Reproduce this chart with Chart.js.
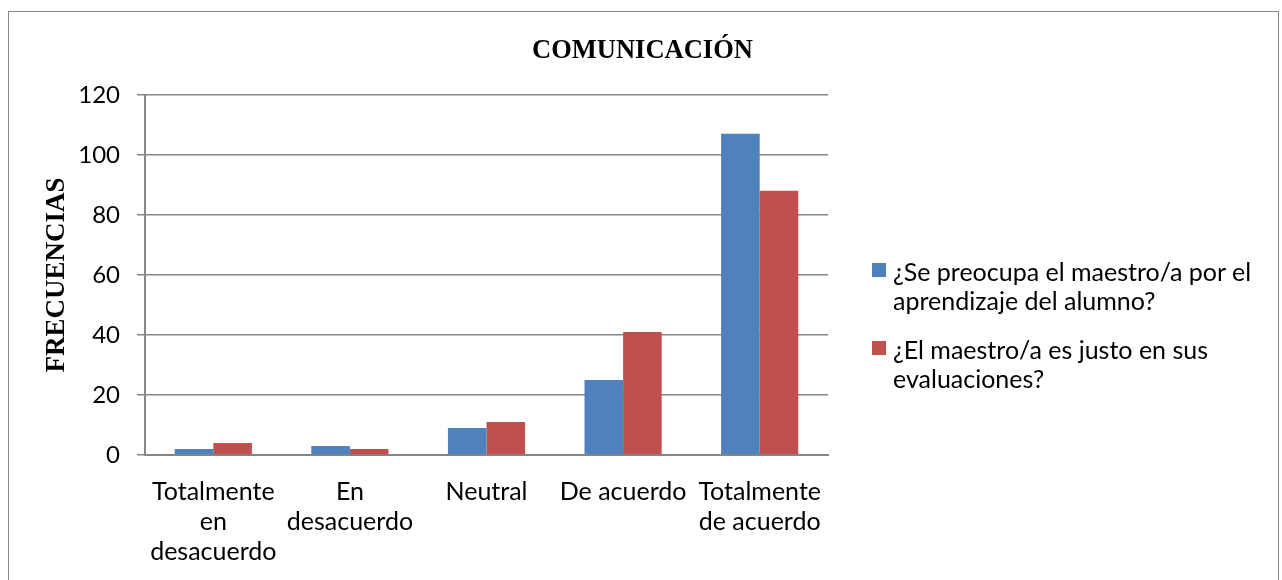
<!DOCTYPE html>
<html>
<head>
<meta charset="utf-8">
<script src="https://cdn.jsdelivr.net/npm/chart.js@4/dist/chart.umd.min.js"></script>
<style>
  body { margin: 0; background: #fff; overflow: hidden; }
  #frame { position: absolute; left: 8px; top: 11px; width: 1269px; height: 600px; border: 1px solid #868686; }
  #wrap { position: absolute; left: 0; top: 0; width: 1282px; height: 580px; }
  #legend { position: absolute; left: 871px; top: 257px; font-family: Lato, "Open Sans", sans-serif; font-size: 25px; color: #000; }
  .item { position: relative; padding-left: 22px; line-height: 29px; margin-bottom: 20px; white-space: nowrap; }
  .box { position: absolute; left: 1px; top: 6px; width: 14px; height: 14px; }
</style>
</head>
<body>
<div id="frame"></div>
<div id="wrap"><canvas id="comunicacion-chart"></canvas></div>
<div id="legend"></div>
<script>
// categories on the x axis (arrays = wrapped lines)
const categories = [
  ["Totalmente", "en", "desacuerdo"],
  ["En", "desacuerdo"],
  "Neutral",
  "De acuerdo",
  ["Totalmente", "de acuerdo"]
];
const seriesNames = [
  ["¿Se preocupa el maestro/a por el", "aprendizaje del alumno?"],
  ["¿El maestro/a es justo en sus", "evaluaciones?"]
];
const preocupaValues = [2, 3, 9, 25, 107];
const justoValues = [4, 2, 11, 41, 88];
const yTicks = [0, 20, 40, 60, 80, 100, 120];
const colors = ["#4f81bd", "#c0504d"];

const sansFamily = "Lato, 'Open Sans', sans-serif";
const serifFamily = "'Liberation Serif', 'Times New Roman', serif";

function createChart() {
  const canvas = document.querySelector("#comunicacion-chart");
  let options = {
    type: "bar",
    data: {
      labels: categories,
      datasets: [
        { label: seriesNames[0].join(" "), data: preocupaValues, backgroundColor: colors[0] },
        { label: seriesNames[1].join(" "), data: justoValues, backgroundColor: colors[1] }
      ]
    },
    options: {
      responsive: true,
      maintainAspectRatio: false,
      animation: false,
      layout: { padding: { left: 3, right: 0, top: 0, bottom: 0 } },
      datasets: { bar: { categoryPercentage: 0.565, barPercentage: 1.0 } },
      scales: {
        x: {
          grid: { display: false },
          border: { color: "#868686", width: 2 },
          ticks: { color: "#000", font: { family: sansFamily, size: 25, lineHeight: 1.2 }, maxRotation: 0, autoSkip: false, padding: 14 },
          afterFit: (scale) => { scale.height = 125; }
        },
        y: {
          min: 0,
          max: 120,
          afterBuildTicks: (scale) => { scale.ticks = yTicks.map(v => ({ value: v })); },
          grid: { color: "#868686", lineWidth: 1.5, tickLength: 8 },
          border: { color: "#868686", width: 2 },
          ticks: { color: "#000", font: { family: sansFamily, size: 24 }, padding: 17 },
          title: {
            display: true,
            text: "FRECUENCIAS",
            color: "#000",
            font: { family: serifFamily, size: 27, weight: "bold", lineHeight: 1.2 },
            padding: { top: 38, bottom: 0 }
          },
          afterFit: (scale) => { scale.width = 142; }
        },
        // empty right-hand box keeps room for the legend
        spacer: {
          position: "right",
          grid: { display: false },
          border: { display: false },
          ticks: { display: false },
          afterFit: (scale) => { scale.width = 454; }
        }
      },
      plugins: {
        title: {
          display: true,
          text: "COMUNICACIÓN",
          color: "#000",
          font: { family: serifFamily, size: 26.5, weight: "bold", lineHeight: 1.2 },
          padding: { top: 35, bottom: 28 }
        },
        legend: { display: false },
        tooltip: { enabled: false }
      }
    }
  };
  const chart = new Chart(canvas.getContext("2d"), options);

  // legend with wrapped text, built from the datasets
  const legend = document.querySelector("#legend");
  chart.data.datasets.forEach((ds, i) => {
    const item = document.createElement("div");
    item.className = "item";
    item.innerHTML = '<span class="box" style="background:' + ds.backgroundColor + '"></span>' + seriesNames[i].join("<br>");
    legend.appendChild(item);
  });
}

createChart();
</script>
</body>
</html>
